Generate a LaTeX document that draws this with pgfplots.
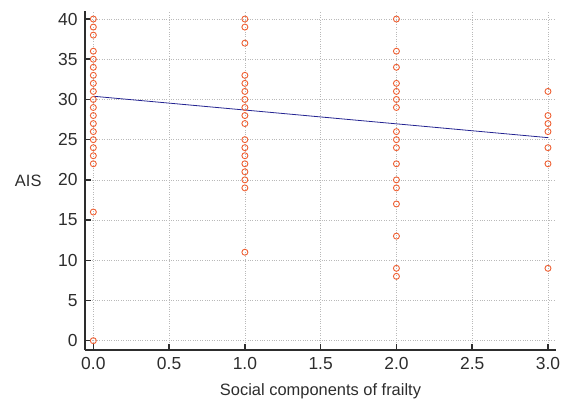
\documentclass[border=0pt]{standalone}
\usepackage{pgfplots}
\pgfplotsset{compat=1.18}
\usepackage{fontspec}
\setmainfont{Liberation Sans}
\definecolor{mk}{RGB}{238,95,50}
\definecolor{ln}{RGB}{35,35,145}
\definecolor{ax}{RGB}{45,45,45}
\begin{document}
\begin{tikzpicture}
\begin{axis}[
  scale only axis, width=471bp, height=339bp,
  xmin=-0.055, xmax=3.053, ymin=-1.16, ymax=41.0,
  axis x line*=bottom, axis y line*=left,
  axis line style={ax, line width=1.5pt},
  xtick={0,0.5,...,3.0}, ytick={0,5,...,40},
  /pgf/number format/assume math mode=true,
  tick align=inside, major tick length=6bp,
  tick style={ax, line width=1.5pt},
  grid=major, grid style={gray!55, dotted, line width=0.7pt},
  ticklabel style={font=\fontsize{17.5}{20}\selectfont, text=ax},
  xticklabel style={yshift=-4bp, /pgf/number format/.cd, fixed, fixed zerofill, precision=1},
  yticklabel style={xshift=-4bp},
  xlabel={Social components of frailty},
  ylabel={AIS},
  label style={font=\fontsize{16.5}{19}\selectfont, text=ax},
  ylabel style={rotate=-90, at={(axis description cs:0,0.5)}, anchor=east, xshift=-40bp},
  xlabel style={yshift=-7bp},
  clip=false,
]
\addplot[only marks, mark=o, mark size=3bp, mk, line width=0.9pt] coordinates {
(0,40)(0,39)(0,38)(0,36)(0,35)(0,34)(0,33)(0,32)(0,31)(0,30)(0,29)(0,28)(0,27)(0,26)(0,25)(0,24)(0,23)(0,22)(0,16)(0,0)
(1,40)(1,39)(1,37)(1,33)(1,32)(1,31)(1,30)(1,29)(1,28)(1,27)(1,25)(1,24)(1,23)(1,22)(1,21)(1,20)(1,19)(1,11)
(2,40)(2,36)(2,34)(2,32)(2,31)(2,30)(2,29)(2,26)(2,25)(2,24)(2,22)(2,20)(2,19)(2,17)(2,13)(2,9)(2,8)
(3,31)(3,28)(3,27)(3,26)(3,24)(3,22)(3,9)
};
\addplot[ln, line width=0.8pt] coordinates {(0,30.4)(3,25.25)};
\end{axis}
\path (current axis.south west) ++(-85bp,-53bp) rectangle ++(566bp,403bp);
\end{tikzpicture}
\end{document}
